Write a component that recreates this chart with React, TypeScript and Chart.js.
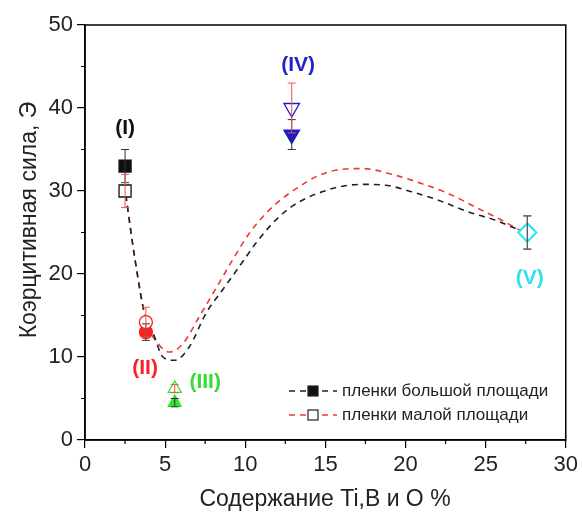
import React, { useEffect, useRef } from "react";
import { Chart, registerables } from "chart.js";

Chart.register(...registerables);

// Sample groups (I)–(V): Ti,B and O content, %
const groupX = [2.5, 3.8, 5.6, 12.9, 27.6];
// Large-area films (filled markers)
const largeY = [33, 13, 4.5, 36.8, 25];
const largeErr = [2, 1, 0.5, 1.8, 2];
// Small-area films (open markers)
const smallY = [30, 14.2, 6.2, 40, 25];
const smallErr = [2, 1.8, 0.5, 3, 2];
const groupLabels = ["(I)", "(II)", "(III)", "(IV)", "(V)"];
const labelX = [2.5, 3.75, 7.5, 13.3, 27.75];
const labelY = [37.6, 8.6, 7.0, 45.2, 19.5];

// Guide curves (dashed)
const largeCurveX = [2.55, 3.1, 3.8, 4.24, 4.86, 5.6, 6.5, 7.56, 8.59, 9.63, 10.66, 11.7, 12.73, 13.77, 14.8, 15.84, 17.3, 18.74, 20.4, 22.05, 23.9, 25.57, 27.12, 27.6];
const largeCurveY = [29.5, 22, 14.5, 12.9, 10.0, 9.6, 11.2, 15.3, 18.1, 20.9, 23.7, 26.1, 27.9, 29.1, 29.9, 30.5, 30.8, 30.7, 29.9, 28.9, 27.5, 26.5, 25.3, 25];
const smallCurveX = [2.55, 3.1, 3.8, 4.66, 5.28, 6.11, 7.14, 8.18, 9.21, 10.25, 11.29, 12.32, 13.35, 14.39, 15.63, 17.29, 19.36, 21.0, 22.67, 24.53, 26.19, 27.12, 27.6];
const smallCurveY = [29.5, 22, 14.5, 11.4, 10.6, 11.6, 14.9, 18.3, 21.7, 24.9, 27.3, 29.1, 30.5, 31.7, 32.5, 32.7, 31.9, 30.9, 29.7, 27.9, 26.3, 25.3, 25];

const legendLabels = ["пленки большой площади", "пленки малой площади"];
const xTitle = "Содержание Ti,B и O %";
const yTitle = "Коэрцитивная сила, Э";

const groupColors = ["#111111", "#ff1f1f", "#2ee62e", "#1a1ad0", "#33e6f2"];
const labelColors = ["#111111", "#ff1f1f", "#33dd33", "#2323c8", "#33e0f0"];
const groupStyles = ["rect", "circle", "triangle", "triangle", "rectRot"];
const groupRotation = [0, 0, 0, 180, 0];
const groupRadius = [8.5, 6.5, 7.5, 9, 9];
const FONT = "'Liberation Sans', Arial, sans-serif";

const decorPlugin = {
  id: "decor",
  afterDatasetsDraw(chart: any) {
    const { ctx, scales } = chart;
    const xs = scales.x;
    const ys = scales.y;
    ctx.save();
    // error bars
    const drawErr = (x: number, y: number, e: number, color: string) => {
      const px = xs.getPixelForValue(x);
      const top = ys.getPixelForValue(y + e);
      const bot = ys.getPixelForValue(y - e);
      ctx.strokeStyle = color;
      ctx.lineWidth = 1;
      ctx.beginPath();
      ctx.moveTo(px, top);
      ctx.lineTo(px, bot);
      ctx.moveTo(px - 4, top);
      ctx.lineTo(px + 4, top);
      ctx.moveTo(px - 4, bot);
      ctx.lineTo(px + 4, bot);
      ctx.stroke();
    };
    groupX.forEach((x, i) => {
      const last = i === groupX.length - 1;
      drawErr(x, largeY[i], largeErr[i], last ? "#555" : "#333");
      drawErr(x, smallY[i], smallErr[i], last ? "#555" : "#f05050");
    });
    // group labels
    ctx.font = `bold 21px ${FONT}`;
    ctx.textAlign = "center";
    ctx.textBaseline = "middle";
    groupLabels.forEach((t, i) => {
      ctx.fillStyle = labelColors[i];
      ctx.fillText(t, xs.getPixelForValue(labelX[i]), ys.getPixelForValue(labelY[i]));
    });
    ctx.restore();
  },
  afterDraw(chart: any) {
    const { ctx, chartArea, scales } = chart;
    const xs = scales.x;
    const ys = scales.y;
    const { left, right, top, bottom } = chartArea;
    ctx.save();
    // frame
    ctx.strokeStyle = "#000";
    ctx.lineWidth = 1.5;
    ctx.strokeRect(left, top, right - left, bottom - top);
    // minor ticks
    ctx.lineWidth = 1.2;
    ctx.beginPath();
    for (let v = 2.5; v < 30; v += 5) {
      const px = xs.getPixelForValue(v);
      ctx.moveTo(px, bottom);
      ctx.lineTo(px, bottom + 4);
    }
    for (let v = 5; v < 50; v += 10) {
      const py = ys.getPixelForValue(v);
      ctx.moveTo(left, py);
      ctx.lineTo(left - 4, py);
    }
    ctx.stroke();
    // legend
    const rows = [
      { color: "#222", fill: "#111", y: 391 },
      { color: "#f03838", fill: "#fff", y: 415 },
    ];
    rows.forEach((r, i) => {
      ctx.strokeStyle = r.color;
      ctx.lineWidth = 1.5;
      ctx.setLineDash([6, 5]);
      ctx.beginPath();
      ctx.moveTo(289, r.y);
      ctx.lineTo(337, r.y);
      ctx.stroke();
      ctx.setLineDash([]);
      ctx.fillStyle = r.fill;
      ctx.strokeStyle = "#222";
      ctx.lineWidth = 1.2;
      ctx.fillRect(308, r.y - 5, 10, 10);
      ctx.strokeRect(308, r.y - 5, 10, 10);
      ctx.fillStyle = "#222";
      ctx.font = `17px ${FONT}`;
      ctx.textAlign = "left";
      ctx.textBaseline = "middle";
      ctx.fillText(legendLabels[i], 342, r.y);
    });
    // axis titles
    ctx.fillStyle = "#222";
    ctx.font = `23px ${FONT}`;
    ctx.textAlign = "center";
    ctx.textBaseline = "middle";
    ctx.fillText(xTitle, 325, 500);
    ctx.translate(30, 220);
    ctx.rotate(-Math.PI / 2);
    ctx.fillText(yTitle, 0, 0);
    ctx.restore();
  },
};

export default function App() {
  const ref = useRef<HTMLCanvasElement>(null);
  useEffect(() => {
    if (!ref.current) return;
    const curveDs = (xs: number[], ys: number[], color: string) => ({
      type: "line" as const,
      data: xs.map((x, i) => ({ x, y: ys[i] })),
      borderColor: color,
      borderWidth: 1.6,
      borderDash: [6, 5],
      pointRadius: 0,
      fill: false,
      cubicInterpolationMode: "monotone" as const,
      order: 10,
    });
    const markerDs = (ys: number[], filled: boolean, order: number) => ({
      type: "scatter" as const,
      data: groupX.map((x, i) => ({ x, y: ys[i] })),
      pointStyle: groupStyles,
      rotation: groupRotation,
      pointRadius: groupRadius,
      borderColor: groupColors,
      backgroundColor: groupColors.map((c, i) => (filled && i < 4 ? c : "#ffffff")),
      pointBorderWidth: groupColors.map((_, i) => (i === 4 ? 2 : 1.3)),
      order,
    });
    const chart = new Chart(ref.current, {
      type: "scatter",
      data: {
        datasets: [
          curveDs(largeCurveX, largeCurveY, "#222222"),
          curveDs(smallCurveX, smallCurveY, "#f03838"),
          markerDs(largeY, true, 2),
          markerDs(smallY, false, 1),
        ] as any,
      },
      options: {
        animation: false,
        responsive: false,
        maintainAspectRatio: false,
        layout: { padding: { left: 0, right: 14, top: 25, bottom: 0 } },
        plugins: { legend: { display: false }, tooltip: { enabled: false } },
        scales: {
          x: {
            type: "linear",
            min: 0,
            max: 30,
            afterFit: (s: any) => { s.height = 76; },
            ticks: { stepSize: 5, color: "#222", font: { size: 22, family: FONT }, padding: 4 },
            grid: { drawOnChartArea: false, drawTicks: true, tickLength: 8, color: "#000", lineWidth: 1.2 },
            border: { display: true, color: "#000", width: 1.5 },
          },
          y: {
            type: "linear",
            min: 0,
            max: 50,
            afterFit: (s: any) => { s.width = 85; },
            ticks: { stepSize: 10, color: "#222", font: { size: 22, family: FONT }, padding: 4 },
            grid: { drawOnChartArea: false, drawTicks: true, tickLength: 8, color: "#000", lineWidth: 1.2 },
            border: { display: true, color: "#000", width: 1.5 },
          },
        },
      },
      plugins: [decorPlugin],
    });
    return () => chart.destroy();
  }, []);
  return (
    <div style={{ position: "absolute", left: 0, top: 0, width: 582, height: 516, background: "#fff" }}>
      <canvas ref={ref} width={582} height={516} style={{ width: 582, height: 516, display: "block" }} />
    </div>
  );
}
